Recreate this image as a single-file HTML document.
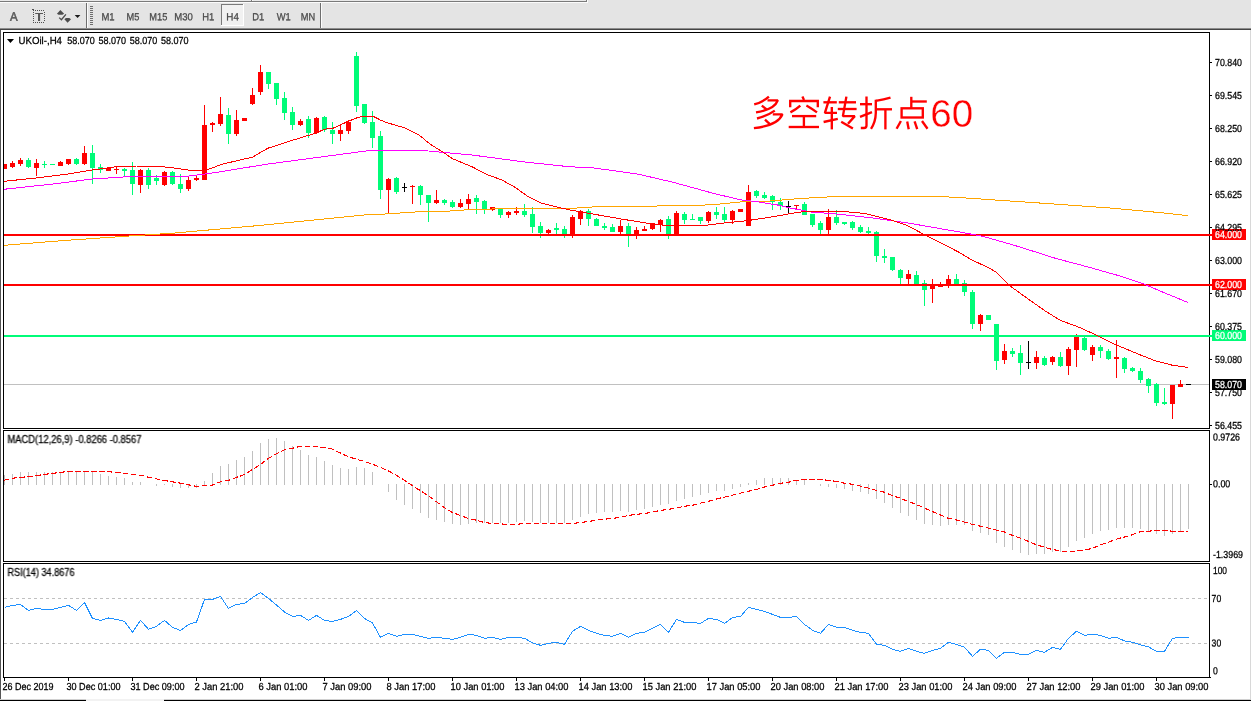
<!DOCTYPE html><html><head><meta charset="utf-8"><title>UKOil H4</title>
<style>html,body{margin:0;padding:0;background:#fff;overflow:hidden}body{width:1251px;height:701px;font-family:"Liberation Sans",sans-serif}svg{display:block;position:absolute;left:0;top:0;will-change:transform}text{font-family:"Liberation Sans",sans-serif}</style></head><body>
<svg width="1251" height="701" viewBox="0 0 1251 701">
<rect x="0" y="0" width="1251" height="701" fill="#ffffff"/>
<g shape-rendering="crispEdges">
<rect x="0" y="0" width="1251" height="28" fill="#e4e4e4"/>
<rect x="0" y="0" width="587" height="1" fill="#e9e9e9"/>
<rect x="0" y="1" width="587" height="1" fill="#7a7a7a"/>
<rect x="0" y="2" width="588" height="1" fill="#fbfbfb"/>
<rect x="586" y="0" width="1" height="2" fill="#7a7a7a"/>
<rect x="587" y="0" width="1" height="3" fill="#fbfbfb"/>
<rect x="251" y="0" width="1" height="1" fill="#7a7a7a"/>
<rect x="252" y="0" width="1" height="1" fill="#fbfbfb"/>
<rect x="0" y="28" width="1251" height="1" fill="#8c8c8c"/>
<rect x="0" y="29" width="1251" height="1" fill="#444444"/>
<rect x="0" y="30" width="1" height="670" fill="#555555"/>
<rect x="1250" y="30" width="1" height="670" fill="#d8d8d8"/>
<rect x="0" y="699" width="1251" height="1" fill="#d0d0d0"/>
<rect x="0" y="700" width="1251" height="1" fill="#000000"/>
<rect x="86" y="699" width="78" height="2" fill="#f2f2f2"/>
<rect x="86" y="3" width="1" height="25" fill="#6e6e6e"/>
<rect x="87" y="3" width="1" height="25" fill="#fbfbfb"/>
<rect x="320" y="3" width="1" height="25" fill="#6e6e6e"/>
<rect x="321" y="3" width="1" height="25" fill="#fbfbfb"/>
<rect x="90" y="6" width="3" height="1" fill="#6e6e6e"/>
<rect x="90" y="8" width="3" height="1" fill="#6e6e6e"/>
<rect x="90" y="10" width="3" height="1" fill="#6e6e6e"/>
<rect x="90" y="12" width="3" height="1" fill="#6e6e6e"/>
<rect x="90" y="14" width="3" height="1" fill="#6e6e6e"/>
<rect x="90" y="16" width="3" height="1" fill="#6e6e6e"/>
<rect x="90" y="18" width="3" height="1" fill="#6e6e6e"/>
<rect x="90" y="20" width="3" height="1" fill="#6e6e6e"/>
<rect x="90" y="22" width="3" height="1" fill="#6e6e6e"/>
<rect x="90" y="24" width="3" height="1" fill="#6e6e6e"/>
<rect x="221" y="4" width="23" height="22" fill="#f1f1f1"/>
<rect x="221" y="4" width="22" height="1" fill="#7a7a7a"/>
<rect x="221" y="4" width="1" height="22" fill="#7a7a7a"/>
<rect x="243" y="4" width="1" height="22" fill="#ffffff"/>
<rect x="221" y="25" width="23" height="1" fill="#ffffff"/>
<rect x="3" y="32" width="1207" height="1" fill="#000000"/>
<rect x="3" y="32" width="1" height="397" fill="#000000"/>
<rect x="3" y="428" width="1207" height="1" fill="#000000"/>
<rect x="3" y="430" width="1207" height="1" fill="#000000"/>
<rect x="3" y="430" width="1" height="132" fill="#000000"/>
<rect x="3" y="561" width="1207" height="1" fill="#000000"/>
<rect x="3" y="563" width="1207" height="1" fill="#000000"/>
<rect x="3" y="563" width="1" height="115" fill="#000000"/>
<rect x="3" y="677" width="1207" height="1" fill="#000000"/>
<rect x="1209" y="32" width="1" height="646" fill="#000000"/>
<rect x="1209" y="429" width="1" height="1" fill="#fff"/>
<rect x="1209" y="562" width="1" height="1" fill="#fff"/>
<rect x="1210" y="62" width="2" height="1" fill="#000000"/>
<rect x="1210" y="95" width="2" height="1" fill="#000000"/>
<rect x="1210" y="128" width="2" height="1" fill="#000000"/>
<rect x="1210" y="161" width="2" height="1" fill="#000000"/>
<rect x="1210" y="194" width="2" height="1" fill="#000000"/>
<rect x="1210" y="227" width="2" height="1" fill="#000000"/>
<rect x="1210" y="260" width="2" height="1" fill="#000000"/>
<rect x="1210" y="293" width="2" height="1" fill="#000000"/>
<rect x="1210" y="326" width="2" height="1" fill="#000000"/>
<rect x="1210" y="359" width="2" height="1" fill="#000000"/>
<rect x="1210" y="392" width="2" height="1" fill="#000000"/>
<rect x="1210" y="425" width="2" height="1" fill="#000000"/>
<rect x="1210" y="484" width="2" height="1" fill="#000000"/>
<rect x="1210" y="677" width="1" height="1" fill="#000000"/>
<rect x="4" y="678" width="1" height="3" fill="#000000"/>
<rect x="68" y="678" width="1" height="3" fill="#000000"/>
<rect x="132" y="678" width="1" height="3" fill="#000000"/>
<rect x="196" y="678" width="1" height="3" fill="#000000"/>
<rect x="260" y="678" width="1" height="3" fill="#000000"/>
<rect x="324" y="678" width="1" height="3" fill="#000000"/>
<rect x="388" y="678" width="1" height="3" fill="#000000"/>
<rect x="452" y="678" width="1" height="3" fill="#000000"/>
<rect x="516" y="678" width="1" height="3" fill="#000000"/>
<rect x="580" y="678" width="1" height="3" fill="#000000"/>
<rect x="644" y="678" width="1" height="3" fill="#000000"/>
<rect x="708" y="678" width="1" height="3" fill="#000000"/>
<rect x="772" y="678" width="1" height="3" fill="#000000"/>
<rect x="836" y="678" width="1" height="3" fill="#000000"/>
<rect x="900" y="678" width="1" height="3" fill="#000000"/>
<rect x="964" y="678" width="1" height="3" fill="#000000"/>
<rect x="1028" y="678" width="1" height="3" fill="#000000"/>
<rect x="1092" y="678" width="1" height="3" fill="#000000"/>
<rect x="1156" y="678" width="1" height="3" fill="#000000"/>
</g>
<defs><clipPath id="cm"><rect x="4" y="33" width="1205" height="395"/></clipPath></defs>
<g shape-rendering="crispEdges">
<rect x="4" y="475" width="1" height="10" fill="#c0c0c0"/>
<rect x="12" y="474" width="1" height="11" fill="#c0c0c0"/>
<rect x="20" y="472" width="1" height="13" fill="#c0c0c0"/>
<rect x="28" y="472" width="1" height="13" fill="#c0c0c0"/>
<rect x="36" y="472" width="1" height="13" fill="#c0c0c0"/>
<rect x="44" y="472" width="1" height="13" fill="#c0c0c0"/>
<rect x="52" y="472" width="1" height="13" fill="#c0c0c0"/>
<rect x="60" y="472" width="1" height="13" fill="#c0c0c0"/>
<rect x="68" y="472" width="1" height="13" fill="#c0c0c0"/>
<rect x="76" y="472" width="1" height="13" fill="#c0c0c0"/>
<rect x="84" y="472" width="1" height="13" fill="#c0c0c0"/>
<rect x="92" y="472" width="1" height="13" fill="#c0c0c0"/>
<rect x="100" y="474" width="1" height="11" fill="#c0c0c0"/>
<rect x="108" y="476" width="1" height="9" fill="#c0c0c0"/>
<rect x="116" y="477" width="1" height="8" fill="#c0c0c0"/>
<rect x="124" y="478" width="1" height="7" fill="#c0c0c0"/>
<rect x="132" y="482" width="1" height="3" fill="#c0c0c0"/>
<rect x="140" y="482" width="1" height="3" fill="#c0c0c0"/>
<rect x="156" y="484" width="1" height="2" fill="#c0c0c0"/>
<rect x="164" y="484" width="1" height="1" fill="#c0c0c0"/>
<rect x="172" y="484" width="1" height="3" fill="#c0c0c0"/>
<rect x="180" y="484" width="1" height="4" fill="#c0c0c0"/>
<rect x="188" y="484" width="1" height="4" fill="#c0c0c0"/>
<rect x="196" y="484" width="1" height="4" fill="#c0c0c0"/>
<rect x="204" y="481" width="1" height="4" fill="#c0c0c0"/>
<rect x="212" y="473" width="1" height="12" fill="#c0c0c0"/>
<rect x="220" y="466" width="1" height="19" fill="#c0c0c0"/>
<rect x="228" y="464" width="1" height="21" fill="#c0c0c0"/>
<rect x="236" y="460" width="1" height="25" fill="#c0c0c0"/>
<rect x="244" y="457" width="1" height="28" fill="#c0c0c0"/>
<rect x="252" y="451" width="1" height="34" fill="#c0c0c0"/>
<rect x="260" y="443" width="1" height="42" fill="#c0c0c0"/>
<rect x="268" y="439" width="1" height="46" fill="#c0c0c0"/>
<rect x="276" y="438" width="1" height="47" fill="#c0c0c0"/>
<rect x="284" y="441" width="1" height="44" fill="#c0c0c0"/>
<rect x="292" y="446" width="1" height="39" fill="#c0c0c0"/>
<rect x="300" y="450" width="1" height="35" fill="#c0c0c0"/>
<rect x="308" y="455" width="1" height="30" fill="#c0c0c0"/>
<rect x="316" y="457" width="1" height="28" fill="#c0c0c0"/>
<rect x="324" y="461" width="1" height="24" fill="#c0c0c0"/>
<rect x="332" y="465" width="1" height="20" fill="#c0c0c0"/>
<rect x="340" y="468" width="1" height="17" fill="#c0c0c0"/>
<rect x="348" y="469" width="1" height="16" fill="#c0c0c0"/>
<rect x="356" y="467" width="1" height="18" fill="#c0c0c0"/>
<rect x="364" y="468" width="1" height="17" fill="#c0c0c0"/>
<rect x="372" y="472" width="1" height="13" fill="#c0c0c0"/>
<rect x="388" y="484" width="1" height="8" fill="#c0c0c0"/>
<rect x="396" y="484" width="1" height="16" fill="#c0c0c0"/>
<rect x="404" y="484" width="1" height="21" fill="#c0c0c0"/>
<rect x="412" y="484" width="1" height="25" fill="#c0c0c0"/>
<rect x="420" y="484" width="1" height="29" fill="#c0c0c0"/>
<rect x="428" y="484" width="1" height="34" fill="#c0c0c0"/>
<rect x="436" y="484" width="1" height="36" fill="#c0c0c0"/>
<rect x="444" y="484" width="1" height="38" fill="#c0c0c0"/>
<rect x="452" y="484" width="1" height="40" fill="#c0c0c0"/>
<rect x="460" y="484" width="1" height="41" fill="#c0c0c0"/>
<rect x="468" y="484" width="1" height="40" fill="#c0c0c0"/>
<rect x="476" y="484" width="1" height="39" fill="#c0c0c0"/>
<rect x="484" y="484" width="1" height="39" fill="#c0c0c0"/>
<rect x="492" y="484" width="1" height="39" fill="#c0c0c0"/>
<rect x="500" y="484" width="1" height="39" fill="#c0c0c0"/>
<rect x="508" y="484" width="1" height="39" fill="#c0c0c0"/>
<rect x="516" y="484" width="1" height="38" fill="#c0c0c0"/>
<rect x="524" y="484" width="1" height="37" fill="#c0c0c0"/>
<rect x="532" y="484" width="1" height="38" fill="#c0c0c0"/>
<rect x="540" y="484" width="1" height="39" fill="#c0c0c0"/>
<rect x="548" y="484" width="1" height="39" fill="#c0c0c0"/>
<rect x="556" y="484" width="1" height="39" fill="#c0c0c0"/>
<rect x="564" y="484" width="1" height="39" fill="#c0c0c0"/>
<rect x="572" y="484" width="1" height="36" fill="#c0c0c0"/>
<rect x="580" y="484" width="1" height="33" fill="#c0c0c0"/>
<rect x="588" y="484" width="1" height="30" fill="#c0c0c0"/>
<rect x="596" y="484" width="1" height="29" fill="#c0c0c0"/>
<rect x="604" y="484" width="1" height="28" fill="#c0c0c0"/>
<rect x="612" y="484" width="1" height="28" fill="#c0c0c0"/>
<rect x="620" y="484" width="1" height="27" fill="#c0c0c0"/>
<rect x="628" y="484" width="1" height="28" fill="#c0c0c0"/>
<rect x="636" y="484" width="1" height="26" fill="#c0c0c0"/>
<rect x="644" y="484" width="1" height="25" fill="#c0c0c0"/>
<rect x="652" y="484" width="1" height="23" fill="#c0c0c0"/>
<rect x="660" y="484" width="1" height="21" fill="#c0c0c0"/>
<rect x="668" y="484" width="1" height="20" fill="#c0c0c0"/>
<rect x="676" y="484" width="1" height="17" fill="#c0c0c0"/>
<rect x="684" y="484" width="1" height="15" fill="#c0c0c0"/>
<rect x="692" y="484" width="1" height="13" fill="#c0c0c0"/>
<rect x="700" y="484" width="1" height="11" fill="#c0c0c0"/>
<rect x="708" y="484" width="1" height="9" fill="#c0c0c0"/>
<rect x="716" y="484" width="1" height="7" fill="#c0c0c0"/>
<rect x="724" y="484" width="1" height="7" fill="#c0c0c0"/>
<rect x="732" y="484" width="1" height="5" fill="#c0c0c0"/>
<rect x="740" y="484" width="1" height="3" fill="#c0c0c0"/>
<rect x="748" y="483" width="1" height="2" fill="#c0c0c0"/>
<rect x="756" y="480" width="1" height="5" fill="#c0c0c0"/>
<rect x="764" y="478" width="1" height="7" fill="#c0c0c0"/>
<rect x="772" y="478" width="1" height="7" fill="#c0c0c0"/>
<rect x="780" y="478" width="1" height="7" fill="#c0c0c0"/>
<rect x="788" y="478" width="1" height="7" fill="#c0c0c0"/>
<rect x="796" y="480" width="1" height="5" fill="#c0c0c0"/>
<rect x="804" y="480" width="1" height="5" fill="#c0c0c0"/>
<rect x="820" y="484" width="1" height="2" fill="#c0c0c0"/>
<rect x="828" y="484" width="1" height="3" fill="#c0c0c0"/>
<rect x="836" y="484" width="1" height="4" fill="#c0c0c0"/>
<rect x="844" y="484" width="1" height="5" fill="#c0c0c0"/>
<rect x="852" y="484" width="1" height="7" fill="#c0c0c0"/>
<rect x="860" y="484" width="1" height="8" fill="#c0c0c0"/>
<rect x="868" y="484" width="1" height="10" fill="#c0c0c0"/>
<rect x="876" y="484" width="1" height="15" fill="#c0c0c0"/>
<rect x="884" y="484" width="1" height="19" fill="#c0c0c0"/>
<rect x="892" y="484" width="1" height="24" fill="#c0c0c0"/>
<rect x="900" y="484" width="1" height="29" fill="#c0c0c0"/>
<rect x="908" y="484" width="1" height="32" fill="#c0c0c0"/>
<rect x="916" y="484" width="1" height="36" fill="#c0c0c0"/>
<rect x="924" y="484" width="1" height="40" fill="#c0c0c0"/>
<rect x="932" y="484" width="1" height="41" fill="#c0c0c0"/>
<rect x="940" y="484" width="1" height="42" fill="#c0c0c0"/>
<rect x="948" y="484" width="1" height="41" fill="#c0c0c0"/>
<rect x="956" y="484" width="1" height="41" fill="#c0c0c0"/>
<rect x="964" y="484" width="1" height="41" fill="#c0c0c0"/>
<rect x="972" y="484" width="1" height="47" fill="#c0c0c0"/>
<rect x="980" y="484" width="1" height="49" fill="#c0c0c0"/>
<rect x="988" y="484" width="1" height="51" fill="#c0c0c0"/>
<rect x="996" y="484" width="1" height="59" fill="#c0c0c0"/>
<rect x="1004" y="484" width="1" height="63" fill="#c0c0c0"/>
<rect x="1012" y="484" width="1" height="66" fill="#c0c0c0"/>
<rect x="1020" y="484" width="1" height="69" fill="#c0c0c0"/>
<rect x="1028" y="484" width="1" height="71" fill="#c0c0c0"/>
<rect x="1036" y="484" width="1" height="70" fill="#c0c0c0"/>
<rect x="1044" y="484" width="1" height="70" fill="#c0c0c0"/>
<rect x="1052" y="484" width="1" height="68" fill="#c0c0c0"/>
<rect x="1060" y="484" width="1" height="68" fill="#c0c0c0"/>
<rect x="1068" y="484" width="1" height="63" fill="#c0c0c0"/>
<rect x="1076" y="484" width="1" height="57" fill="#c0c0c0"/>
<rect x="1084" y="484" width="1" height="54" fill="#c0c0c0"/>
<rect x="1092" y="484" width="1" height="50" fill="#c0c0c0"/>
<rect x="1100" y="484" width="1" height="47" fill="#c0c0c0"/>
<rect x="1108" y="484" width="1" height="46" fill="#c0c0c0"/>
<rect x="1116" y="484" width="1" height="44" fill="#c0c0c0"/>
<rect x="1124" y="484" width="1" height="44" fill="#c0c0c0"/>
<rect x="1132" y="484" width="1" height="44" fill="#c0c0c0"/>
<rect x="1140" y="484" width="1" height="45" fill="#c0c0c0"/>
<rect x="1148" y="484" width="1" height="47" fill="#c0c0c0"/>
<rect x="1156" y="484" width="1" height="50" fill="#c0c0c0"/>
<rect x="1164" y="484" width="1" height="52" fill="#c0c0c0"/>
<rect x="1172" y="484" width="1" height="50" fill="#c0c0c0"/>
<rect x="1180" y="484" width="1" height="47" fill="#c0c0c0"/>
<rect x="1188" y="484" width="1" height="45" fill="#c0c0c0"/>
</g>
<polyline points="3.8,480.3 11.5,478.3 28.8,476.6 44.0,474.5 67.0,471.6 107.4,471.6 124.7,473.5 142.0,475.5 147.7,477.0 163.0,480.3 180.3,483.1 195.7,486.2 211.0,485.6 220.6,481.8 230.2,479.9 236.7,477.4 244.4,474.5 252.1,469.7 259.7,465.1 268.4,458.4 276.0,454.0 284.7,449.8 292.4,448.2 299.1,446.7 316.3,446.7 325.9,447.5 332.6,449.2 340.3,453.0 348.0,456.5 356.6,459.4 364.3,461.3 372.0,464.1 380.6,467.4 388.3,470.9 396.9,475.5 404.6,480.5 412.3,485.6 419.9,490.4 428.6,495.8 437.2,502.3 444.9,508.1 452.5,512.5 460.2,515.4 467.7,518.2 476.3,520.2 484.0,522.5 491.7,523.4 508.0,524.4 517.6,524.4 523.3,523.4 573.2,523.4 580.9,522.5 588.5,521.5 596.2,520.2 613.5,518.2 621.2,517.3 627.9,515.4 644.2,513.5 652.8,512.1 659.5,510.6 675.8,508.3 683.5,506.4 692.1,505.4 699.6,503.3 708.2,501.4 715.9,499.1 724.5,497.1 732.2,495.2 739.9,493.3 747.6,491.4 756.2,489.5 763.9,487.2 772.5,485.3 780.2,483.3 787.8,482.4 795.5,480.5 805.1,479.5 822.4,479.5 828.1,480.5 837.7,481.4 844.4,483.3 853.1,484.3 860.7,486.2 868.4,488.1 876.1,490.4 884.7,492.3 892.4,495.6 900.1,498.1 907.7,501.4 916.4,504.4 922.3,507.2 931.6,511.1 940.9,515.1 947.8,518.1 955.9,519.9 964.0,522.0 972.2,524.3 980.3,526.2 988.4,528.1 996.5,530.1 1004.6,532.0 1012.7,535.5 1020.8,538.3 1029.0,541.7 1035.9,544.7 1044.0,547.1 1052.1,549.4 1060.2,551.0 1068.4,552.2 1076.5,551.0 1084.6,550.1 1092.7,548.2 1100.8,544.7 1108.9,542.0 1117.0,539.0 1124.0,537.1 1132.1,534.8 1139.1,532.0 1148.3,531.3 1156.5,530.1 1164.6,530.1 1172.7,531.3 1187.8,531.3" fill="none" stroke="#ff0000" stroke-width="1.1" stroke-dasharray="5.4,2.6" shape-rendering="crispEdges"/>
<g shape-rendering="crispEdges">
<line x1="4" y1="598.5" x2="1209" y2="598.5" stroke="#c0c0c0" stroke-width="1" stroke-dasharray="3,3"/>
<line x1="4" y1="643.5" x2="1209" y2="643.5" stroke="#c0c0c0" stroke-width="1" stroke-dasharray="3,3"/>
</g>
<polyline points="4.5,607.4 12.5,605.4 20.5,604.4 28.5,610.4 36.5,608.4 44.5,609.4 52.5,609.4 60.5,607.4 68.5,605.4 76.5,610.4 84.5,602.6 92.5,618.4 100.5,620.4 108.5,618.0 116.5,619.4 124.5,621.4 132.5,632.3 140.5,620.4 148.5,629.3 156.5,626.3 164.5,620.4 172.5,627.3 180.5,630.5 188.5,624.6 196.5,622.0 204.5,599.4 212.5,599.4 220.5,596.4 228.5,608.4 236.5,604.4 244.5,603.4 252.5,597.4 260.5,592.6 268.5,598.4 276.5,605.0 284.5,612.0 292.5,616.4 300.5,615.4 308.5,620.4 316.5,615.4 324.5,620.4 332.5,621.4 340.5,619.4 348.5,616.4 356.5,610.4 364.5,618.4 372.5,623.0 380.5,637.3 388.5,633.3 396.5,636.3 404.5,634.3 412.5,634.3 420.5,636.3 428.5,638.3 436.5,637.3 444.5,638.3 452.5,639.3 460.5,637.3 468.5,634.3 476.5,635.3 484.5,638.3 492.5,637.3 500.5,639.3 508.5,637.3 516.5,637.3 524.5,638.3 532.5,642.9 540.5,645.3 548.5,643.3 556.5,642.3 564.5,644.3 572.5,631.3 580.5,626.3 588.5,630.3 596.5,633.3 604.5,635.3 612.5,636.3 620.5,633.3 628.5,637.3 636.5,633.3 644.5,632.3 652.5,628.3 660.5,624.4 668.5,632.3 676.5,619.4 684.5,622.4 692.5,622.4 700.5,623.4 708.5,618.4 716.5,619.4 724.5,623.4 732.5,617.4 740.5,616.4 748.5,607.4 756.5,609.4 764.5,611.4 772.5,614.4 780.5,617.4 788.5,617.4 796.5,616.4 804.5,624.4 812.5,630.3 820.5,633.3 828.5,624.4 836.5,627.3 844.5,627.3 852.5,630.3 860.5,632.3 868.5,633.3 876.5,644.3 884.5,645.3 892.5,649.3 900.5,651.3 908.5,648.3 916.5,651.3 924.5,653.3 932.5,650.3 940.5,648.3 948.5,642.3 956.5,644.3 964.5,647.3 972.5,656.3 980.5,649.3 988.5,650.3 996.5,658.3 1004.5,652.3 1012.5,652.3 1020.5,654.3 1028.5,654.3 1036.5,650.3 1044.5,652.3 1052.5,647.3 1060.5,649.3 1068.5,638.3 1076.5,631.3 1084.5,635.3 1092.5,634.3 1100.5,635.3 1108.5,638.3 1116.5,637.3 1124.5,640.9 1132.5,642.3 1140.5,644.9 1148.5,646.9 1156.5,651.3 1164.5,651.3 1172.5,638.3 1180.5,637.3 1188.5,637.3" fill="none" stroke="#1e90ff" stroke-width="1" stroke-linejoin="round" shape-rendering="crispEdges"/>
<g clip-path="url(#cm)">
<rect x="4" y="384" width="1205" height="1" fill="#c0c0c0" shape-rendering="crispEdges"/>
<g shape-rendering="crispEdges">
<rect x="4" y="164" width="1" height="5" fill="#ff0000"/>
<rect x="2" y="164" width="5" height="5" fill="#ff0000"/>
<rect x="12" y="161" width="1" height="7" fill="#ff0000"/>
<rect x="10" y="163" width="5" height="4" fill="#ff0000"/>
<rect x="20" y="158" width="1" height="8" fill="#ff0000"/>
<rect x="18" y="160" width="5" height="4" fill="#ff0000"/>
<rect x="28" y="158" width="1" height="10" fill="#00fc78"/>
<rect x="26" y="160" width="5" height="7" fill="#00fc78"/>
<rect x="36" y="159" width="1" height="17" fill="#ff0000"/>
<rect x="34" y="163" width="5" height="5" fill="#ff0000"/>
<rect x="44" y="161" width="1" height="7" fill="#00fc78"/>
<rect x="42" y="164" width="5" height="1" fill="#00fc78"/>
<rect x="52" y="164" width="1" height="1" fill="#00fc78"/>
<rect x="50" y="164" width="5" height="1" fill="#00fc78"/>
<rect x="60" y="161" width="1" height="5" fill="#ff0000"/>
<rect x="58" y="162" width="5" height="4" fill="#ff0000"/>
<rect x="68" y="159" width="1" height="6" fill="#ff0000"/>
<rect x="66" y="159" width="5" height="5" fill="#ff0000"/>
<rect x="76" y="158" width="1" height="7" fill="#00fc78"/>
<rect x="74" y="159" width="5" height="5" fill="#00fc78"/>
<rect x="84" y="146" width="1" height="19" fill="#ff0000"/>
<rect x="82" y="153" width="5" height="11" fill="#ff0000"/>
<rect x="92" y="145" width="1" height="39" fill="#00fc78"/>
<rect x="90" y="153" width="5" height="15" fill="#00fc78"/>
<rect x="100" y="164" width="1" height="9" fill="#00fc78"/>
<rect x="98" y="167" width="5" height="3" fill="#00fc78"/>
<rect x="108" y="168" width="1" height="3" fill="#ff0000"/>
<rect x="106" y="168" width="5" height="3" fill="#ff0000"/>
<rect x="116" y="166" width="1" height="8" fill="#ff0000"/>
<rect x="114" y="169" width="5" height="1" fill="#ff0000"/>
<rect x="124" y="168" width="1" height="8" fill="#00fc78"/>
<rect x="122" y="169" width="5" height="2" fill="#00fc78"/>
<rect x="132" y="162" width="1" height="33" fill="#00fc78"/>
<rect x="130" y="170" width="5" height="14" fill="#00fc78"/>
<rect x="140" y="169" width="1" height="24" fill="#ff0000"/>
<rect x="138" y="170" width="5" height="15" fill="#ff0000"/>
<rect x="148" y="168" width="1" height="21" fill="#00fc78"/>
<rect x="146" y="170" width="5" height="15" fill="#00fc78"/>
<rect x="156" y="175" width="1" height="10" fill="#00fc78"/>
<rect x="154" y="178" width="5" height="3" fill="#00fc78"/>
<rect x="164" y="171" width="1" height="15" fill="#ff0000"/>
<rect x="162" y="172" width="5" height="13" fill="#ff0000"/>
<rect x="172" y="171" width="1" height="14" fill="#00fc78"/>
<rect x="170" y="172" width="5" height="12" fill="#00fc78"/>
<rect x="180" y="174" width="1" height="19" fill="#00fc78"/>
<rect x="178" y="184" width="5" height="5" fill="#00fc78"/>
<rect x="188" y="176" width="1" height="15" fill="#ff0000"/>
<rect x="186" y="180" width="5" height="9" fill="#ff0000"/>
<rect x="196" y="176" width="1" height="5" fill="#ff0000"/>
<rect x="194" y="178" width="5" height="2" fill="#ff0000"/>
<rect x="204" y="105" width="1" height="75" fill="#ff0000"/>
<rect x="202" y="125" width="5" height="55" fill="#ff0000"/>
<rect x="212" y="122" width="1" height="10" fill="#ff0000"/>
<rect x="210" y="123" width="5" height="2" fill="#ff0000"/>
<rect x="220" y="97" width="1" height="29" fill="#ff0000"/>
<rect x="218" y="114" width="5" height="10" fill="#ff0000"/>
<rect x="228" y="108" width="1" height="36" fill="#00fc78"/>
<rect x="226" y="115" width="5" height="19" fill="#00fc78"/>
<rect x="236" y="110" width="1" height="26" fill="#ff0000"/>
<rect x="234" y="120" width="5" height="14" fill="#ff0000"/>
<rect x="244" y="118" width="1" height="3" fill="#ff0000"/>
<rect x="242" y="118" width="5" height="3" fill="#ff0000"/>
<rect x="252" y="88" width="1" height="17" fill="#ff0000"/>
<rect x="250" y="95" width="5" height="9" fill="#ff0000"/>
<rect x="260" y="65" width="1" height="30" fill="#ff0000"/>
<rect x="258" y="72" width="5" height="20" fill="#ff0000"/>
<rect x="268" y="72" width="1" height="17" fill="#00fc78"/>
<rect x="266" y="72" width="5" height="12" fill="#00fc78"/>
<rect x="276" y="83" width="1" height="22" fill="#00fc78"/>
<rect x="274" y="83" width="5" height="16" fill="#00fc78"/>
<rect x="284" y="92" width="1" height="28" fill="#00fc78"/>
<rect x="282" y="98" width="5" height="15" fill="#00fc78"/>
<rect x="292" y="107" width="1" height="23" fill="#00fc78"/>
<rect x="290" y="112" width="5" height="13" fill="#00fc78"/>
<rect x="300" y="119" width="1" height="7" fill="#ff0000"/>
<rect x="298" y="121" width="5" height="4" fill="#ff0000"/>
<rect x="308" y="116" width="1" height="22" fill="#00fc78"/>
<rect x="306" y="119" width="5" height="14" fill="#00fc78"/>
<rect x="316" y="117" width="1" height="17" fill="#ff0000"/>
<rect x="314" y="118" width="5" height="15" fill="#ff0000"/>
<rect x="324" y="116" width="1" height="16" fill="#00fc78"/>
<rect x="322" y="117" width="5" height="13" fill="#00fc78"/>
<rect x="332" y="122" width="1" height="22" fill="#00fc78"/>
<rect x="330" y="130" width="5" height="4" fill="#00fc78"/>
<rect x="340" y="125" width="1" height="16" fill="#ff0000"/>
<rect x="338" y="130" width="5" height="4" fill="#ff0000"/>
<rect x="348" y="120" width="1" height="14" fill="#ff0000"/>
<rect x="346" y="122" width="5" height="9" fill="#ff0000"/>
<rect x="356" y="52" width="1" height="60" fill="#00fc78"/>
<rect x="354" y="56" width="5" height="50" fill="#00fc78"/>
<rect x="364" y="104" width="1" height="20" fill="#00fc78"/>
<rect x="362" y="104" width="5" height="19" fill="#00fc78"/>
<rect x="372" y="111" width="1" height="37" fill="#00fc78"/>
<rect x="370" y="122" width="5" height="16" fill="#00fc78"/>
<rect x="380" y="131" width="1" height="68" fill="#00fc78"/>
<rect x="378" y="136" width="5" height="54" fill="#00fc78"/>
<rect x="388" y="178" width="1" height="35" fill="#ff0000"/>
<rect x="386" y="179" width="5" height="11" fill="#ff0000"/>
<rect x="396" y="177" width="1" height="17" fill="#00fc78"/>
<rect x="394" y="178" width="5" height="14" fill="#00fc78"/>
<rect x="404" y="183" width="1" height="9" fill="#000000"/>
<rect x="402" y="187" width="5" height="1" fill="#000000"/>
<rect x="412" y="185" width="1" height="19" fill="#ff0000"/>
<rect x="410" y="186" width="5" height="1" fill="#ff0000"/>
<rect x="420" y="185" width="1" height="20" fill="#00fc78"/>
<rect x="418" y="186" width="5" height="9" fill="#00fc78"/>
<rect x="428" y="195" width="1" height="27" fill="#00fc78"/>
<rect x="426" y="195" width="5" height="8" fill="#00fc78"/>
<rect x="436" y="190" width="1" height="14" fill="#ff0000"/>
<rect x="434" y="200" width="5" height="3" fill="#ff0000"/>
<rect x="444" y="199" width="1" height="6" fill="#00fc78"/>
<rect x="442" y="200" width="5" height="3" fill="#00fc78"/>
<rect x="452" y="200" width="1" height="8" fill="#00fc78"/>
<rect x="450" y="202" width="5" height="5" fill="#00fc78"/>
<rect x="460" y="199" width="1" height="9" fill="#ff0000"/>
<rect x="458" y="203" width="5" height="4" fill="#ff0000"/>
<rect x="468" y="194" width="1" height="16" fill="#ff0000"/>
<rect x="466" y="199" width="5" height="5" fill="#ff0000"/>
<rect x="476" y="195" width="1" height="19" fill="#00fc78"/>
<rect x="474" y="198" width="5" height="4" fill="#00fc78"/>
<rect x="484" y="200" width="1" height="14" fill="#00fc78"/>
<rect x="482" y="201" width="5" height="9" fill="#00fc78"/>
<rect x="492" y="207" width="1" height="4" fill="#ff0000"/>
<rect x="490" y="207" width="5" height="3" fill="#ff0000"/>
<rect x="500" y="208" width="1" height="10" fill="#00fc78"/>
<rect x="498" y="208" width="5" height="7" fill="#00fc78"/>
<rect x="508" y="211" width="1" height="7" fill="#ff0000"/>
<rect x="506" y="212" width="5" height="3" fill="#ff0000"/>
<rect x="516" y="207" width="1" height="8" fill="#ff0000"/>
<rect x="514" y="211" width="5" height="2" fill="#ff0000"/>
<rect x="524" y="204" width="1" height="13" fill="#00fc78"/>
<rect x="522" y="211" width="5" height="4" fill="#00fc78"/>
<rect x="532" y="207" width="1" height="26" fill="#00fc78"/>
<rect x="530" y="214" width="5" height="13" fill="#00fc78"/>
<rect x="540" y="222" width="1" height="16" fill="#00fc78"/>
<rect x="538" y="226" width="5" height="7" fill="#00fc78"/>
<rect x="548" y="229" width="1" height="5" fill="#ff0000"/>
<rect x="546" y="230" width="5" height="3" fill="#ff0000"/>
<rect x="556" y="223" width="1" height="11" fill="#00fc78"/>
<rect x="554" y="228" width="5" height="2" fill="#00fc78"/>
<rect x="564" y="226" width="1" height="12" fill="#00fc78"/>
<rect x="562" y="229" width="5" height="5" fill="#00fc78"/>
<rect x="572" y="215" width="1" height="23" fill="#ff0000"/>
<rect x="570" y="217" width="5" height="18" fill="#ff0000"/>
<rect x="580" y="210" width="1" height="15" fill="#ff0000"/>
<rect x="578" y="211" width="5" height="8" fill="#ff0000"/>
<rect x="588" y="209" width="1" height="17" fill="#00fc78"/>
<rect x="586" y="211" width="5" height="8" fill="#00fc78"/>
<rect x="596" y="218" width="1" height="8" fill="#00fc78"/>
<rect x="594" y="219" width="5" height="7" fill="#00fc78"/>
<rect x="604" y="223" width="1" height="7" fill="#00fc78"/>
<rect x="602" y="226" width="5" height="2" fill="#00fc78"/>
<rect x="612" y="224" width="1" height="8" fill="#00fc78"/>
<rect x="610" y="227" width="5" height="5" fill="#00fc78"/>
<rect x="620" y="220" width="1" height="14" fill="#ff0000"/>
<rect x="618" y="226" width="5" height="6" fill="#ff0000"/>
<rect x="628" y="223" width="1" height="24" fill="#00fc78"/>
<rect x="626" y="226" width="5" height="10" fill="#00fc78"/>
<rect x="636" y="227" width="1" height="12" fill="#ff0000"/>
<rect x="634" y="230" width="5" height="6" fill="#ff0000"/>
<rect x="644" y="226" width="1" height="5" fill="#ff0000"/>
<rect x="642" y="229" width="5" height="2" fill="#ff0000"/>
<rect x="652" y="223" width="1" height="7" fill="#ff0000"/>
<rect x="650" y="223" width="5" height="6" fill="#ff0000"/>
<rect x="660" y="219" width="1" height="13" fill="#ff0000"/>
<rect x="658" y="220" width="5" height="5" fill="#ff0000"/>
<rect x="668" y="216" width="1" height="23" fill="#00fc78"/>
<rect x="666" y="219" width="5" height="16" fill="#00fc78"/>
<rect x="676" y="211" width="1" height="24" fill="#ff0000"/>
<rect x="674" y="213" width="5" height="22" fill="#ff0000"/>
<rect x="684" y="212" width="1" height="12" fill="#00fc78"/>
<rect x="682" y="214" width="5" height="6" fill="#00fc78"/>
<rect x="692" y="214" width="1" height="6" fill="#00fc78"/>
<rect x="690" y="219" width="5" height="1" fill="#00fc78"/>
<rect x="700" y="217" width="1" height="7" fill="#00fc78"/>
<rect x="698" y="217" width="5" height="4" fill="#00fc78"/>
<rect x="708" y="211" width="1" height="12" fill="#ff0000"/>
<rect x="706" y="212" width="5" height="9" fill="#ff0000"/>
<rect x="716" y="207" width="1" height="12" fill="#00fc78"/>
<rect x="714" y="212" width="5" height="3" fill="#00fc78"/>
<rect x="724" y="207" width="1" height="16" fill="#00fc78"/>
<rect x="722" y="214" width="5" height="6" fill="#00fc78"/>
<rect x="732" y="210" width="1" height="14" fill="#ff0000"/>
<rect x="730" y="211" width="5" height="9" fill="#ff0000"/>
<rect x="740" y="209" width="1" height="3" fill="#ff0000"/>
<rect x="738" y="209" width="5" height="3" fill="#ff0000"/>
<rect x="748" y="185" width="1" height="41" fill="#ff0000"/>
<rect x="746" y="192" width="5" height="34" fill="#ff0000"/>
<rect x="756" y="190" width="1" height="8" fill="#00fc78"/>
<rect x="754" y="191" width="5" height="5" fill="#00fc78"/>
<rect x="764" y="192" width="1" height="7" fill="#00fc78"/>
<rect x="762" y="195" width="5" height="3" fill="#00fc78"/>
<rect x="772" y="195" width="1" height="15" fill="#00fc78"/>
<rect x="770" y="196" width="5" height="6" fill="#00fc78"/>
<rect x="780" y="198" width="1" height="12" fill="#00fc78"/>
<rect x="778" y="202" width="5" height="4" fill="#00fc78"/>
<rect x="788" y="201" width="1" height="12" fill="#000000"/>
<rect x="786" y="206" width="5" height="1" fill="#000000"/>
<rect x="796" y="205" width="1" height="4" fill="#ff0000"/>
<rect x="794" y="205" width="5" height="1" fill="#ff0000"/>
<rect x="804" y="202" width="1" height="13" fill="#00fc78"/>
<rect x="802" y="204" width="5" height="11" fill="#00fc78"/>
<rect x="812" y="214" width="1" height="13" fill="#00fc78"/>
<rect x="810" y="214" width="5" height="11" fill="#00fc78"/>
<rect x="820" y="221" width="1" height="13" fill="#00fc78"/>
<rect x="818" y="223" width="5" height="7" fill="#00fc78"/>
<rect x="828" y="209" width="1" height="25" fill="#ff0000"/>
<rect x="826" y="217" width="5" height="13" fill="#ff0000"/>
<rect x="836" y="210" width="1" height="15" fill="#00fc78"/>
<rect x="834" y="217" width="5" height="6" fill="#00fc78"/>
<rect x="844" y="222" width="1" height="3" fill="#00fc78"/>
<rect x="842" y="222" width="5" height="2" fill="#00fc78"/>
<rect x="852" y="221" width="1" height="9" fill="#00fc78"/>
<rect x="850" y="222" width="5" height="6" fill="#00fc78"/>
<rect x="860" y="225" width="1" height="8" fill="#00fc78"/>
<rect x="858" y="227" width="5" height="5" fill="#00fc78"/>
<rect x="868" y="227" width="1" height="7" fill="#00fc78"/>
<rect x="866" y="231" width="5" height="2" fill="#00fc78"/>
<rect x="876" y="231" width="1" height="31" fill="#00fc78"/>
<rect x="874" y="232" width="5" height="24" fill="#00fc78"/>
<rect x="884" y="249" width="1" height="14" fill="#00fc78"/>
<rect x="882" y="256" width="5" height="2" fill="#00fc78"/>
<rect x="892" y="257" width="1" height="14" fill="#00fc78"/>
<rect x="890" y="257" width="5" height="13" fill="#00fc78"/>
<rect x="900" y="269" width="1" height="15" fill="#00fc78"/>
<rect x="898" y="270" width="5" height="8" fill="#00fc78"/>
<rect x="908" y="270" width="1" height="14" fill="#ff0000"/>
<rect x="906" y="274" width="5" height="5" fill="#ff0000"/>
<rect x="916" y="271" width="1" height="13" fill="#00fc78"/>
<rect x="914" y="275" width="5" height="9" fill="#00fc78"/>
<rect x="924" y="280" width="1" height="26" fill="#00fc78"/>
<rect x="922" y="283" width="5" height="7" fill="#00fc78"/>
<rect x="932" y="279" width="1" height="24" fill="#ff0000"/>
<rect x="930" y="284" width="5" height="5" fill="#ff0000"/>
<rect x="940" y="282" width="1" height="5" fill="#ff0000"/>
<rect x="938" y="284" width="5" height="3" fill="#ff0000"/>
<rect x="948" y="275" width="1" height="13" fill="#ff0000"/>
<rect x="946" y="279" width="5" height="6" fill="#ff0000"/>
<rect x="956" y="274" width="1" height="10" fill="#00fc78"/>
<rect x="954" y="279" width="5" height="5" fill="#00fc78"/>
<rect x="964" y="280" width="1" height="16" fill="#00fc78"/>
<rect x="962" y="283" width="5" height="9" fill="#00fc78"/>
<rect x="972" y="290" width="1" height="39" fill="#00fc78"/>
<rect x="970" y="292" width="5" height="32" fill="#00fc78"/>
<rect x="980" y="314" width="1" height="17" fill="#ff0000"/>
<rect x="978" y="315" width="5" height="9" fill="#ff0000"/>
<rect x="988" y="315" width="1" height="5" fill="#00fc78"/>
<rect x="986" y="315" width="5" height="5" fill="#00fc78"/>
<rect x="996" y="324" width="1" height="46" fill="#00fc78"/>
<rect x="994" y="324" width="5" height="37" fill="#00fc78"/>
<rect x="1004" y="344" width="1" height="20" fill="#ff0000"/>
<rect x="1002" y="351" width="5" height="9" fill="#ff0000"/>
<rect x="1012" y="348" width="1" height="9" fill="#00fc78"/>
<rect x="1010" y="351" width="5" height="3" fill="#00fc78"/>
<rect x="1020" y="345" width="1" height="30" fill="#00fc78"/>
<rect x="1018" y="353" width="5" height="10" fill="#00fc78"/>
<rect x="1028" y="341" width="1" height="28" fill="#000000"/>
<rect x="1026" y="362" width="5" height="1" fill="#000000"/>
<rect x="1036" y="351" width="1" height="18" fill="#ff0000"/>
<rect x="1034" y="357" width="5" height="6" fill="#ff0000"/>
<rect x="1044" y="356" width="1" height="10" fill="#00fc78"/>
<rect x="1042" y="358" width="5" height="7" fill="#00fc78"/>
<rect x="1052" y="356" width="1" height="9" fill="#ff0000"/>
<rect x="1050" y="357" width="5" height="5" fill="#ff0000"/>
<rect x="1060" y="352" width="1" height="15" fill="#00fc78"/>
<rect x="1058" y="357" width="5" height="9" fill="#00fc78"/>
<rect x="1068" y="347" width="1" height="28" fill="#ff0000"/>
<rect x="1066" y="349" width="5" height="17" fill="#ff0000"/>
<rect x="1076" y="334" width="1" height="33" fill="#ff0000"/>
<rect x="1074" y="337" width="5" height="13" fill="#ff0000"/>
<rect x="1084" y="337" width="1" height="14" fill="#00fc78"/>
<rect x="1082" y="338" width="5" height="12" fill="#00fc78"/>
<rect x="1092" y="345" width="1" height="16" fill="#ff0000"/>
<rect x="1090" y="347" width="5" height="8" fill="#ff0000"/>
<rect x="1100" y="345" width="1" height="13" fill="#00fc78"/>
<rect x="1098" y="347" width="5" height="4" fill="#00fc78"/>
<rect x="1108" y="349" width="1" height="11" fill="#00fc78"/>
<rect x="1106" y="351" width="5" height="8" fill="#00fc78"/>
<rect x="1116" y="340" width="1" height="38" fill="#ff0000"/>
<rect x="1114" y="357" width="5" height="2" fill="#ff0000"/>
<rect x="1124" y="357" width="1" height="16" fill="#00fc78"/>
<rect x="1122" y="358" width="5" height="11" fill="#00fc78"/>
<rect x="1132" y="367" width="1" height="5" fill="#00fc78"/>
<rect x="1130" y="368" width="5" height="3" fill="#00fc78"/>
<rect x="1140" y="368" width="1" height="15" fill="#00fc78"/>
<rect x="1138" y="371" width="5" height="9" fill="#00fc78"/>
<rect x="1148" y="378" width="1" height="15" fill="#00fc78"/>
<rect x="1146" y="379" width="5" height="7" fill="#00fc78"/>
<rect x="1156" y="383" width="1" height="23" fill="#00fc78"/>
<rect x="1154" y="384" width="5" height="19" fill="#00fc78"/>
<rect x="1164" y="388" width="1" height="17" fill="#00fc78"/>
<rect x="1162" y="402" width="5" height="2" fill="#00fc78"/>
<rect x="1172" y="385" width="1" height="34" fill="#ff0000"/>
<rect x="1170" y="385" width="5" height="19" fill="#ff0000"/>
<rect x="1180" y="380" width="1" height="7" fill="#ff0000"/>
<rect x="1178" y="384" width="5" height="3" fill="#ff0000"/>
<rect x="1188" y="384" width="1" height="1" fill="#000000"/>
<rect x="1186" y="384" width="5" height="1" fill="#000000"/>
<rect x="4" y="234" width="1205" height="2" fill="#ff0000"/>
<rect x="4" y="284" width="1205" height="2" fill="#ff0000"/>
<rect x="4" y="335" width="1205" height="2" fill="#00fc78"/>
</g>
<polyline points="3.8,245.3 64.0,240.5 134.0,235.7 172.7,233.2 255.8,225.8 319.7,219.4 367.7,214.6 383.7,214.1 416.2,211.9 447.0,211.2 465.8,209.9 488.0,209.9 493.0,208.7 534.3,209.0 536.9,208.1 570.0,208.6 587.1,207.1 629.9,206.2 672.7,205.9 712.0,204.8 741.1,201.9 770.0,201.0 800.0,198.5 824.8,197.1 840.2,196.3 936.0,196.3 960.0,197.6 1010.0,201.0 1060.0,204.4 1110.0,208.0 1160.0,212.6 1187.8,215.6" fill="none" stroke="#ffa500" stroke-width="1.0" stroke-linejoin="round" shape-rendering="crispEdges"/>
<polyline points="3.8,189.3 51.3,184.2 92.4,179.0 137.0,176.1 188.3,176.1 210.0,173.4 266.2,164.3 368.9,150.6 380.0,150.4 423.0,150.5 472.7,155.1 524.0,161.9 570.0,166.8 592.2,167.7 638.5,174.2 672.7,182.2 715.5,193.9 741.1,199.9 758.3,201.9 780.0,205.4 787.1,207.4 811.1,212.0 838.5,214.2 872.7,218.0 906.9,222.8 941.1,228.8 960.0,232.0 984.0,236.6 1020.0,247.0 1056.0,258.5 1090.0,267.5 1120.0,276.0 1144.0,284.0 1160.0,291.0 1188.0,302.5" fill="none" stroke="#ff00ff" stroke-width="1.0" stroke-linejoin="round" shape-rendering="crispEdges"/>
<polyline points="3.8,181.3 34.2,178.2 68.5,173.9 92.4,170.0 119.8,166.2 137.0,166.0 167.7,167.1 195.1,171.0 202.0,170.5 210.0,168.8 221.7,164.3 252.5,157.1 267.9,148.2 291.8,140.5 315.8,133.1 324.4,129.2 332.9,128.3 346.6,122.0 358.6,117.2 364.0,116.2 373.1,116.2 380.3,120.0 387.7,122.9 404.2,127.7 419.6,135.4 429.9,144.0 443.6,152.5 452.1,158.5 472.7,167.1 486.4,174.4 501.8,179.9 515.5,187.6 527.4,196.2 541.1,203.0 558.3,207.3 570.0,210.0 592.2,213.9 621.3,219.0 650.4,223.7 665.8,225.5 703.5,225.5 724.0,223.0 746.3,220.8 763.4,218.2 780.0,215.6 787.1,214.2 802.5,211.7 848.7,212.0 864.1,213.4 889.8,219.7 906.9,225.4 924.0,234.4 941.1,243.0 958.3,251.9 972.0,260.0 987.0,267.0 995.8,271.8 1009.5,285.5 1028.4,299.2 1045.5,311.2 1060.9,320.6 1079.7,327.5 1095.7,334.8 1112.8,343.4 1138.5,354.2 1155.6,360.9 1172.7,365.3 1187.8,367.4" fill="none" stroke="#ff0000" stroke-width="1.0" stroke-linejoin="round" shape-rendering="crispEdges"/>
</g>
<g shape-rendering="crispEdges">
<rect x="1209" y="234" width="3" height="2" fill="#ff0000"/>
<rect x="1209" y="284" width="3" height="2" fill="#ff0000"/>
<rect x="1209" y="335" width="3" height="2" fill="#00fc78"/>
<rect x="1212" y="229" width="34" height="11" fill="#ff0000"/>
<rect x="1212" y="279" width="34" height="11" fill="#ff0000"/>
<rect x="1212" y="330" width="34" height="11" fill="#00fc78"/>
<rect x="1212" y="379" width="34" height="11" fill="#000000"/>
</g>
<g opacity="0.999">
<text transform="translate(1215,66) rotate(0.05)" font-size="10.2" fill="#000" stroke="#000" stroke-width="0.28" textLength="27" lengthAdjust="spacingAndGlyphs">70.840</text>
<text transform="translate(1215,99) rotate(0.05)" font-size="10.2" fill="#000" stroke="#000" stroke-width="0.28" textLength="27" lengthAdjust="spacingAndGlyphs">69.545</text>
<text transform="translate(1215,132) rotate(0.05)" font-size="10.2" fill="#000" stroke="#000" stroke-width="0.28" textLength="27" lengthAdjust="spacingAndGlyphs">68.250</text>
<text transform="translate(1215,165) rotate(0.05)" font-size="10.2" fill="#000" stroke="#000" stroke-width="0.28" textLength="27" lengthAdjust="spacingAndGlyphs">66.920</text>
<text transform="translate(1215,198) rotate(0.05)" font-size="10.2" fill="#000" stroke="#000" stroke-width="0.28" textLength="27" lengthAdjust="spacingAndGlyphs">65.625</text>
<text transform="translate(1215,231) rotate(0.05)" font-size="10.2" fill="#000" stroke="#000" stroke-width="0.28" textLength="27" lengthAdjust="spacingAndGlyphs">64.295</text>
<text transform="translate(1215,264) rotate(0.05)" font-size="10.2" fill="#000" stroke="#000" stroke-width="0.28" textLength="27" lengthAdjust="spacingAndGlyphs">63.000</text>
<text transform="translate(1215,297) rotate(0.05)" font-size="10.2" fill="#000" stroke="#000" stroke-width="0.28" textLength="27" lengthAdjust="spacingAndGlyphs">61.670</text>
<text transform="translate(1215,330) rotate(0.05)" font-size="10.2" fill="#000" stroke="#000" stroke-width="0.28" textLength="27" lengthAdjust="spacingAndGlyphs">60.375</text>
<text transform="translate(1215,363) rotate(0.05)" font-size="10.2" fill="#000" stroke="#000" stroke-width="0.28" textLength="27" lengthAdjust="spacingAndGlyphs">59.080</text>
<text transform="translate(1215,396) rotate(0.05)" font-size="10.2" fill="#000" stroke="#000" stroke-width="0.28" textLength="27" lengthAdjust="spacingAndGlyphs">57.750</text>
<text transform="translate(1215,429) rotate(0.05)" font-size="10.2" fill="#000" stroke="#000" stroke-width="0.28" textLength="27" lengthAdjust="spacingAndGlyphs">56.455</text>
<text transform="translate(1215,238) rotate(0.05)" font-size="10.2" fill="#fff" stroke="#fff" stroke-width="0.28" textLength="27" lengthAdjust="spacingAndGlyphs">64.000</text>
<text transform="translate(1215,288) rotate(0.05)" font-size="10.2" fill="#fff" stroke="#fff" stroke-width="0.28" textLength="27" lengthAdjust="spacingAndGlyphs">62.000</text>
<text transform="translate(1215,339) rotate(0.05)" font-size="10.2" fill="#fff" stroke="#fff" stroke-width="0.28" textLength="27" lengthAdjust="spacingAndGlyphs">60.000</text>
<text transform="translate(1215,388) rotate(0.05)" font-size="10.2" fill="#fff" stroke="#fff" stroke-width="0.28" textLength="27" lengthAdjust="spacingAndGlyphs">58.070</text>
<text transform="translate(1213,440.6) rotate(0.05)" font-size="10.2" fill="#000" stroke="#000" stroke-width="0.28" textLength="27" lengthAdjust="spacingAndGlyphs">0.9726</text>
<text transform="translate(1213,487.3) rotate(0.05)" font-size="10.2" fill="#000" stroke="#000" stroke-width="0.28" textLength="17.3" lengthAdjust="spacingAndGlyphs">0.00</text>
<text transform="translate(1213,558) rotate(0.05)" font-size="10.2" fill="#000" stroke="#000" stroke-width="0.28" textLength="30" lengthAdjust="spacingAndGlyphs">-1.3969</text>
<text transform="translate(1213,574) rotate(0.05)" font-size="10.2" fill="#000" stroke="#000" stroke-width="0.28" textLength="14" lengthAdjust="spacingAndGlyphs">100</text>
<text transform="translate(1211.6,602) rotate(0.05)" font-size="10.2" fill="#000" stroke="#000" stroke-width="0.28" textLength="9.6" lengthAdjust="spacingAndGlyphs">70</text>
<text transform="translate(1211.6,646.5) rotate(0.05)" font-size="10.2" fill="#000" stroke="#000" stroke-width="0.28" textLength="9.6" lengthAdjust="spacingAndGlyphs">30</text>
<text transform="translate(1213,674.3) rotate(0.05)" font-size="10.2" fill="#000" stroke="#000" stroke-width="0.28" textLength="4.8" lengthAdjust="spacingAndGlyphs">0</text>
<text transform="translate(2.5,690) rotate(0.05)" font-size="10.2" fill="#000" stroke="#000" stroke-width="0.28" textLength="51" lengthAdjust="spacingAndGlyphs">26 Dec 2019</text>
<text transform="translate(66.5,690) rotate(0.05)" font-size="10.2" fill="#000" stroke="#000" stroke-width="0.28" textLength="54" lengthAdjust="spacingAndGlyphs">30 Dec 01:00</text>
<text transform="translate(130.5,690) rotate(0.05)" font-size="10.2" fill="#000" stroke="#000" stroke-width="0.28" textLength="54" lengthAdjust="spacingAndGlyphs">31 Dec 09:00</text>
<text transform="translate(194.5,690) rotate(0.05)" font-size="10.2" fill="#000" stroke="#000" stroke-width="0.28" textLength="49" lengthAdjust="spacingAndGlyphs">2 Jan 21:00</text>
<text transform="translate(258.5,690) rotate(0.05)" font-size="10.2" fill="#000" stroke="#000" stroke-width="0.28" textLength="49" lengthAdjust="spacingAndGlyphs">6 Jan 01:00</text>
<text transform="translate(322.5,690) rotate(0.05)" font-size="10.2" fill="#000" stroke="#000" stroke-width="0.28" textLength="49" lengthAdjust="spacingAndGlyphs">7 Jan 09:00</text>
<text transform="translate(386.5,690) rotate(0.05)" font-size="10.2" fill="#000" stroke="#000" stroke-width="0.28" textLength="49" lengthAdjust="spacingAndGlyphs">8 Jan 17:00</text>
<text transform="translate(450.5,690) rotate(0.05)" font-size="10.2" fill="#000" stroke="#000" stroke-width="0.28" textLength="54" lengthAdjust="spacingAndGlyphs">10 Jan 01:00</text>
<text transform="translate(514.5,690) rotate(0.05)" font-size="10.2" fill="#000" stroke="#000" stroke-width="0.28" textLength="54" lengthAdjust="spacingAndGlyphs">13 Jan 04:00</text>
<text transform="translate(578.5,690) rotate(0.05)" font-size="10.2" fill="#000" stroke="#000" stroke-width="0.28" textLength="54" lengthAdjust="spacingAndGlyphs">14 Jan 13:00</text>
<text transform="translate(642.5,690) rotate(0.05)" font-size="10.2" fill="#000" stroke="#000" stroke-width="0.28" textLength="54" lengthAdjust="spacingAndGlyphs">15 Jan 21:00</text>
<text transform="translate(706.5,690) rotate(0.05)" font-size="10.2" fill="#000" stroke="#000" stroke-width="0.28" textLength="54" lengthAdjust="spacingAndGlyphs">17 Jan 05:00</text>
<text transform="translate(770.5,690) rotate(0.05)" font-size="10.2" fill="#000" stroke="#000" stroke-width="0.28" textLength="54" lengthAdjust="spacingAndGlyphs">20 Jan 08:00</text>
<text transform="translate(834.5,690) rotate(0.05)" font-size="10.2" fill="#000" stroke="#000" stroke-width="0.28" textLength="54" lengthAdjust="spacingAndGlyphs">21 Jan 17:00</text>
<text transform="translate(898.5,690) rotate(0.05)" font-size="10.2" fill="#000" stroke="#000" stroke-width="0.28" textLength="54" lengthAdjust="spacingAndGlyphs">23 Jan 01:00</text>
<text transform="translate(962.5,690) rotate(0.05)" font-size="10.2" fill="#000" stroke="#000" stroke-width="0.28" textLength="54" lengthAdjust="spacingAndGlyphs">24 Jan 09:00</text>
<text transform="translate(1026.5,690) rotate(0.05)" font-size="10.2" fill="#000" stroke="#000" stroke-width="0.28" textLength="54" lengthAdjust="spacingAndGlyphs">27 Jan 12:00</text>
<text transform="translate(1090.5,690) rotate(0.05)" font-size="10.2" fill="#000" stroke="#000" stroke-width="0.28" textLength="54" lengthAdjust="spacingAndGlyphs">29 Jan 01:00</text>
<text transform="translate(1154.5,690) rotate(0.05)" font-size="10.2" fill="#000" stroke="#000" stroke-width="0.28" textLength="54" lengthAdjust="spacingAndGlyphs">30 Jan 09:00</text>
<text transform="translate(18.5,44) rotate(0.05)" font-size="10.2" fill="#000" stroke="#000" stroke-width="0.28" textLength="43.5" lengthAdjust="spacingAndGlyphs">UKOil-,H4</text>
<text transform="translate(67.3,44) rotate(0.05)" font-size="10.2" fill="#000" stroke="#000" stroke-width="0.28" textLength="27.6" lengthAdjust="spacingAndGlyphs">58.070</text>
<text transform="translate(98.5,44) rotate(0.05)" font-size="10.2" fill="#000" stroke="#000" stroke-width="0.28" textLength="27.6" lengthAdjust="spacingAndGlyphs">58.070</text>
<text transform="translate(129.7,44) rotate(0.05)" font-size="10.2" fill="#000" stroke="#000" stroke-width="0.28" textLength="27.6" lengthAdjust="spacingAndGlyphs">58.070</text>
<text transform="translate(160.89999999999998,44) rotate(0.05)" font-size="10.2" fill="#000" stroke="#000" stroke-width="0.28" textLength="27.6" lengthAdjust="spacingAndGlyphs">58.070</text>
<path d="M6.9,39.1 L14,39.1 L10.45,42.9 Z" fill="#000"/>
<text transform="translate(7.5,443) rotate(0.05)" font-size="10.2" fill="#000" stroke="#000" stroke-width="0.28" textLength="134" lengthAdjust="spacingAndGlyphs">MACD(12,26,9) -0.8266 -0.8567</text>
<text transform="translate(7.5,576) rotate(0.05)" font-size="10.2" fill="#000" stroke="#000" stroke-width="0.28" textLength="67" lengthAdjust="spacingAndGlyphs">RSI(14) 34.8676</text>
<text transform="translate(101.4,20.2) rotate(0.05)" font-size="10.2" fill="#4a4a4a" stroke="#4a4a4a" stroke-width="0.28" textLength="13.2" lengthAdjust="spacingAndGlyphs">M1</text>
<text transform="translate(126.6,20.2) rotate(0.05)" font-size="10.2" fill="#4a4a4a" stroke="#4a4a4a" stroke-width="0.28" textLength="12.8" lengthAdjust="spacingAndGlyphs">M5</text>
<text transform="translate(149.3,20.2) rotate(0.05)" font-size="10.2" fill="#4a4a4a" stroke="#4a4a4a" stroke-width="0.28" textLength="18.0" lengthAdjust="spacingAndGlyphs">M15</text>
<text transform="translate(174.3,20.2) rotate(0.05)" font-size="10.2" fill="#4a4a4a" stroke="#4a4a4a" stroke-width="0.28" textLength="18.6" lengthAdjust="spacingAndGlyphs">M30</text>
<text transform="translate(202.3,20.2) rotate(0.05)" font-size="10.2" fill="#4a4a4a" stroke="#4a4a4a" stroke-width="0.28" textLength="12.0" lengthAdjust="spacingAndGlyphs">H1</text>
<text transform="translate(226.3,20.2) rotate(0.05)" font-size="10.2" fill="#4a4a4a" stroke="#4a4a4a" stroke-width="0.28" textLength="12.6" lengthAdjust="spacingAndGlyphs">H4</text>
<text transform="translate(252.3,20.2) rotate(0.05)" font-size="10.2" fill="#4a4a4a" stroke="#4a4a4a" stroke-width="0.28" textLength="12.0" lengthAdjust="spacingAndGlyphs">D1</text>
<text transform="translate(276.8,20.2) rotate(0.05)" font-size="10.2" fill="#4a4a4a" stroke="#4a4a4a" stroke-width="0.28" textLength="14.0" lengthAdjust="spacingAndGlyphs">W1</text>
<text transform="translate(300.8,20.2) rotate(0.05)" font-size="10.2" fill="#4a4a4a" stroke="#4a4a4a" stroke-width="0.28" textLength="14.4" lengthAdjust="spacingAndGlyphs">MN</text>
<text transform="translate(9.9,20.7) rotate(0.05)" font-size="12.4" fill="#585858" textLength="7.6" lengthAdjust="spacingAndGlyphs" stroke="#585858" stroke-width="0.55">A</text>
<g shape-rendering="crispEdges" fill="#505050">
<rect x="33" y="10" width="1" height="1" fill="#505050"/>
<rect x="33" y="22" width="1" height="1" fill="#505050"/>
<rect x="35" y="10" width="1" height="1" fill="#505050"/>
<rect x="35" y="22" width="1" height="1" fill="#505050"/>
<rect x="37" y="10" width="1" height="1" fill="#505050"/>
<rect x="37" y="22" width="1" height="1" fill="#505050"/>
<rect x="39" y="10" width="1" height="1" fill="#505050"/>
<rect x="39" y="22" width="1" height="1" fill="#505050"/>
<rect x="41" y="10" width="1" height="1" fill="#505050"/>
<rect x="41" y="22" width="1" height="1" fill="#505050"/>
<rect x="43" y="10" width="1" height="1" fill="#505050"/>
<rect x="43" y="22" width="1" height="1" fill="#505050"/>
<rect x="33" y="12" width="1" height="1" fill="#505050"/>
<rect x="44" y="12" width="1" height="1" fill="#505050"/>
<rect x="33" y="14" width="1" height="1" fill="#505050"/>
<rect x="44" y="14" width="1" height="1" fill="#505050"/>
<rect x="33" y="16" width="1" height="1" fill="#505050"/>
<rect x="44" y="16" width="1" height="1" fill="#505050"/>
<rect x="33" y="18" width="1" height="1" fill="#505050"/>
<rect x="44" y="18" width="1" height="1" fill="#505050"/>
<rect x="33" y="20" width="1" height="1" fill="#505050"/>
<rect x="44" y="20" width="1" height="1" fill="#505050"/>
<rect x="32" y="9" width="2" height="1" fill="#505050"/>
</g>
<path d="M35.2,13 H43 V14.1 H40.1 V20.9 H38 V14.1 H35.2 Z" fill="#585858"/>
<path d="M60.4,9.9 L64.1,13.7 L62.4,14.7 L58.6,14.7 L56.9,13.7 Z" fill="#4c4c4c"/>
<path d="M67.6,22.8 L71,19.2 L69.3,18 L65.9,18 L64.4,19.2 Z" fill="#4c4c4c"/>
<path d="M59.2,17.6 L61.4,19.7 L65.9,14.3" stroke="#4c4c4c" stroke-width="1.3" fill="none"/>
<path d="M74.7,15 L80.4,15 L77.55,18 Z" fill="#1a1a1a"/>
</g>
<g fill="none" stroke="#ff0000" stroke-width="2.35" stroke-linecap="butt" stroke-linejoin="bevel">
<path d="M768.9,96.6 Q763,102 754.2,104.4"/>
<path d="M767.5,100.4 H777.8 Q774.5,109.5 756,112.4"/>
<path d="M761.8,105.6 L766.9,109.6"/>
<path d="M774.8,110.6 Q768,115.5 757,118.5"/>
<path d="M772.8,114.3 H782.4 Q778,125.5 753.9,128.1"/>
<path d="M765,119.6 L770.1,124.4"/>
<path d="M802.4,96.6 L804,100"/>
<path d="M790.2,107.3 V101 H817.8 V107.3" stroke-linejoin="miter"/>
<path d="M800.3,105.6 Q796,109.5 790.4,112.4"/>
<path d="M806.4,105.4 Q811,108 817,112.4"/>
<path d="M792,116.1 H816.2"/>
<path d="M803.9,116.1 V127"/>
<path d="M788.7,127 H819"/>
<path d="M823.4,102.3 H836.8"/>
<path d="M830,96.6 L824.9,112.9 H837"/>
<path d="M831.8,107 V129.4"/>
<path d="M823.6,122 L837.8,118.9"/>
<path d="M838.8,102.3 H856"/>
<path d="M837.8,109 H856.6"/>
<path d="M846.4,96.6 L842.9,116.1 H854.8 L848,123.8"/>
<path d="M841.2,121.8 L852.9,128.5"/>
<path d="M860,104.2 H872"/>
<path d="M866.5,96.6 V125.5 Q866.5,128 864,128 H860.8"/>
<path d="M860,116.8 L872,112.2"/>
<path d="M890.5,97.6 Q884,99.6 875.8,100.9"/>
<path d="M875.8,99.8 V113 Q875.6,122 871,128.8"/>
<path d="M875.8,109.3 H892"/>
<path d="M885.4,109.3 V129.4"/>
<path d="M911.3,96.8 V108.3"/>
<path d="M911.3,101.5 H926.8"/>
<rect x="901.6" y="108.3" width="21.2" height="9.2" stroke-linejoin="miter"/>
<path d="M900.9,121 L896.6,128.8"/>
<path d="M907.2,121.6 L908.7,129.2"/>
<path d="M914.6,121.4 L917.2,129.2"/>
<path d="M922,121 L927.5,128.8"/>
</g>
<text opacity="0.999" x="930.3" y="126.6" font-size="38.6" fill="#ff0000" stroke="#ffffff" stroke-width="0.35" textLength="42.9">60</text>
</svg></body></html>
